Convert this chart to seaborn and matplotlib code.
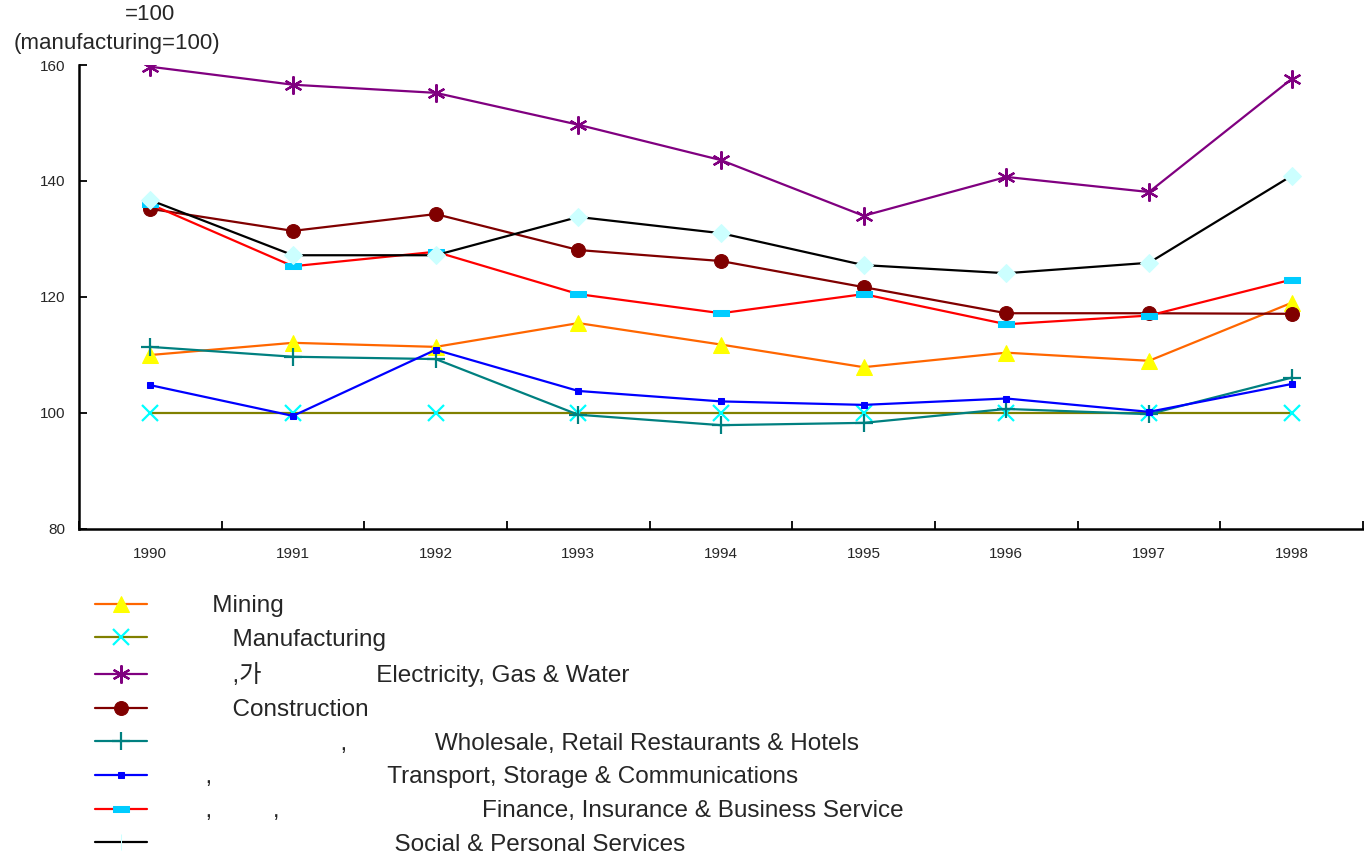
import numpy as np
import pandas as pd
import seaborn as sns
import matplotlib.pyplot as plt
from matplotlib.ticker import FixedLocator

years = [1990, 1991, 1992, 1993, 1994, 1995, 1996, 1997, 1998]

mining = [110.0, 112.1, 111.4, 115.5, 111.8, 107.9, 110.4, 109.0, 119.0]
manufacturing = [100, 100, 100, 100, 100, 100, 100, 100, 100]
electricity = [159.7, 156.6, 155.2, 149.7, 143.6, 134.0, 140.7, 138.1, 157.6]
construction = [135.2, 131.4, 134.3, 128.1, 126.2, 121.7, 117.2, 117.2, 117.1]
wholesale = [111.4, 109.7, 109.3, 99.7, 97.9, 98.3, 100.7, 99.8, 106.1]
transport = [104.8, 99.5, 110.9, 103.8, 102.0, 101.4, 102.5, 100.2, 105.0]
finance = [136.0, 125.3, 127.8, 120.5, 117.2, 120.5, 115.3, 116.8, 123.0]
social = [136.7, 127.2, 127.2, 133.8, 131.0, 125.5, 124.1, 125.9, 140.9]

# Korean parts of the labels did not render in the original, only commas / 가
labels = [
    ' ' * 7 + 'Mining',
    ' ' * 10 + 'Manufacturing',
    ' ' * 10 + ',가' + ' ' * 17 + 'Electricity, Gas & Water',
    ' ' * 10 + 'Construction',
    ' ' * 26 + ',' + ' ' * 13 + 'Wholesale, Retail Restaurants & Hotels',
    ' ' * 6 + ',' + ' ' * 26 + 'Transport, Storage & Communications',
    ' ' * 6 + ',' + ' ' * 9 + ',' + ' ' * 30 + 'Finance, Insurance & Business Service',
    ' ' * 34 + 'Social & Personal Services',
]

rect = [(-1, -0.35), (1, -0.35), (1, 0.35), (-1, 0.35), (-1, -0.35)]

styles = [
    dict(color='#FF6600', marker='^', ms=11, mfc='#FFFF00', mec='#FFFF00'),
    dict(color='#808000', marker='x', ms=11, mfc='#00FFFF', mec='#00FFFF', mew=1.6),
    dict(color='#800080', marker=(6, 2, 0), ms=13, mfc='#800080', mec='#800080', mew=1.6),
    dict(color='#800000', marker='o', ms=10, mfc='#800000', mec='#800000'),
    dict(color='#008080', marker='+', ms=13, mfc='#008080', mec='#008080', mew=1.6),
    dict(color='#0000FF', marker='s', ms=5, mfc='#0000FF', mec='#0000FF'),
    dict(color='#FF0000', marker=rect, ms=11, mfc='#00CCFF', mec='#00CCFF'),
    dict(color='#000000', marker='D', ms=9, mfc='#CCFFFF', mec='#CCFFFF'),
]

series = [mining, manufacturing, electricity, construction,
          wholesale, transport, finance, social]

sns.set_theme(style='white')
plt.rcParams['font.family'] = ['Liberation Sans', 'Noto Sans CJK KR', 'DejaVu Sans']

fig = plt.figure(figsize=(13.64, 8.56), dpi=100)
ax = fig.add_axes([79 / 1364, 1 - 529 / 856, 1284 / 1364, 464 / 856])

for vals, lab, st in zip(series, labels, styles):
    df = pd.DataFrame({'year': years, 'value': vals})
    sns.lineplot(data=df, x='year', y='value', ax=ax, lw=1.6, label=lab, legend=False, **st)

ax.set_xlim(1989.5, 1998.5)
ax.set_ylim(80, 160)
ax.set_yticks([80, 100, 120, 140, 160])
ax.xaxis.set_major_locator(FixedLocator(np.arange(1989.5, 1999, 1)))
ax.xaxis.set_minor_locator(FixedLocator(years))
ax.set_xticklabels([])
ax.set_xticklabels([str(y) for y in years], minor=True)
ax.tick_params(axis='x', which='major', direction='in', length=6, width=1.3, color='black', bottom=True)
ax.tick_params(axis='x', which='minor', length=0, pad=13, labelsize=11)
ax.tick_params(axis='y', direction='in', length=6, width=1.3, color='black', left=True, pad=10, labelsize=11)
ax.set_xlabel('')
ax.set_ylabel('')
for side in ['top', 'right']:
    ax.spines[side].set_visible(False)
for side in ['left', 'bottom']:
    ax.spines[side].set_color('black')
    ax.spines[side].set_linewidth(1.8)

fig.text(125 / 1364, 1 - 15 / 856, '=100', fontsize=16, va='center', ha='left')
fig.text(14 / 1364, 1 - 44 / 856, '(manufacturing=100)', fontsize=16, va='center', ha='left')

handles, labs = ax.get_legend_handles_labels()
leg = fig.legend(handles, labs, loc='upper left', bbox_to_anchor=(95 / 1364, 1 - 595 / 856),
                 frameon=False, fontsize=17.5, handlelength=2.14, handletextpad=0.72,
                 labelspacing=0.48, borderpad=0, borderaxespad=0)
# the social-services key shows a thin tick instead of a diamond
leg.legend_handles[7].set_marker('|')
leg.legend_handles[7].set_markersize(12)

fig.savefig('out.png', dpi=100)
